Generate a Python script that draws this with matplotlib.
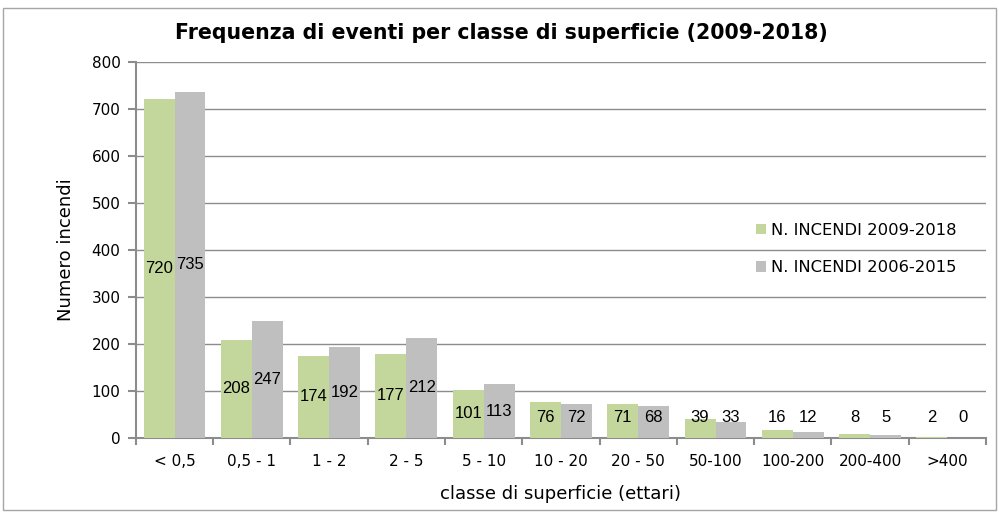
import matplotlib
matplotlib.use('Agg')
import matplotlib.pyplot as plt
import numpy as np
from matplotlib.patches import Rectangle

classi = ['< 0,5', '0,5 - 1', '1 - 2', '2 - 5', '5 - 10', '10 - 20', '20 - 50',
          '50-100', '100-200', '200-400', '>400']
incendi_2009_2018 = [720, 208, 174, 177, 101, 76, 71, 39, 16, 8, 2]
incendi_2006_2015 = [735, 247, 192, 212, 113, 72, 68, 33, 12, 5, 0]

verde = '#C3D69B'
grigio = '#BFBFBF'
font_titoli = ['DejaVu Sans']
font_numeri = ['Liberation Sans Narrow', 'Liberation Sans', 'DejaVu Sans']

fig = plt.figure(figsize=(9.99, 5.13), dpi=100)
ax = fig.add_axes([0.136, 0.147, 0.851, 0.733])

# bordo esterno del grafico
fig.patches.append(Rectangle((0.003, 0.006), 0.994, 0.978, transform=fig.transFigure,
                             fill=False, edgecolor='#A6A6A6', linewidth=1))

x = np.arange(len(classi))
w = 0.4
b1 = ax.bar(x - w / 2, incendi_2009_2018, w, color=verde, label='N. INCENDI 2009-2018', zorder=3)
b2 = ax.bar(x + w / 2, incendi_2006_2015, w, color=grigio, label='N. INCENDI 2006-2015', zorder=3)

for barre, valori in [(b1, incendi_2009_2018), (b2, incendi_2006_2015)]:
    for r, v in zip(barre, valori):
        ax.text(r.get_x() + r.get_width() / 2, max(v / 2, 43), str(v), ha='center', va='center',
                fontsize=12, family=font_numeri, color='black', zorder=4)

ax.set_xlim(-0.5, len(classi) - 0.5)
ax.set_ylim(0, 800)
ax.set_yticks(range(0, 801, 100))
ax.grid(axis='y', color='#8C8C8C', linewidth=1, zorder=0)

ax.set_xticks(x)
ax.set_xticklabels(classi, fontsize=11, family=font_titoli)
ax.set_xticks(np.arange(-0.5, len(classi)), minor=True)
ax.tick_params(axis='x', which='major', length=0, pad=12)
ax.tick_params(axis='x', which='minor', length=5, width=1.5, color='#8C8C8C')
ax.tick_params(axis='y', length=6, width=1.5, color='#8C8C8C', labelsize=11, pad=5)
for lab in ax.get_yticklabels():
    lab.set_family(font_titoli)

for s in ['top', 'right']:
    ax.spines[s].set_visible(False)
for s in ['left', 'bottom']:
    ax.spines[s].set_color('#8C8C8C')
    ax.spines[s].set_linewidth(1.5)

ax.set_ylabel('Numero incendi', fontsize=13, family=font_titoli, labelpad=12)
ax.set_xlabel('classe di superficie (ettari)', fontsize=13, family=font_titoli, labelpad=11)
fig.text(0.502, 0.935, 'Frequenza di eventi per classe di superficie (2009-2018)',
         ha='center', va='center', fontsize=14.8, fontweight='bold', family=font_titoli)

leg = ax.legend(loc='upper left', bbox_to_anchor=(0.712, 0.61), frameon=False,
                handlelength=0.6, handleheight=0.6, handletextpad=0.3, labelspacing=1.35,
                prop={'family': 'DejaVu Sans', 'size': 11.8})

fig.savefig('out.png', dpi=100)
